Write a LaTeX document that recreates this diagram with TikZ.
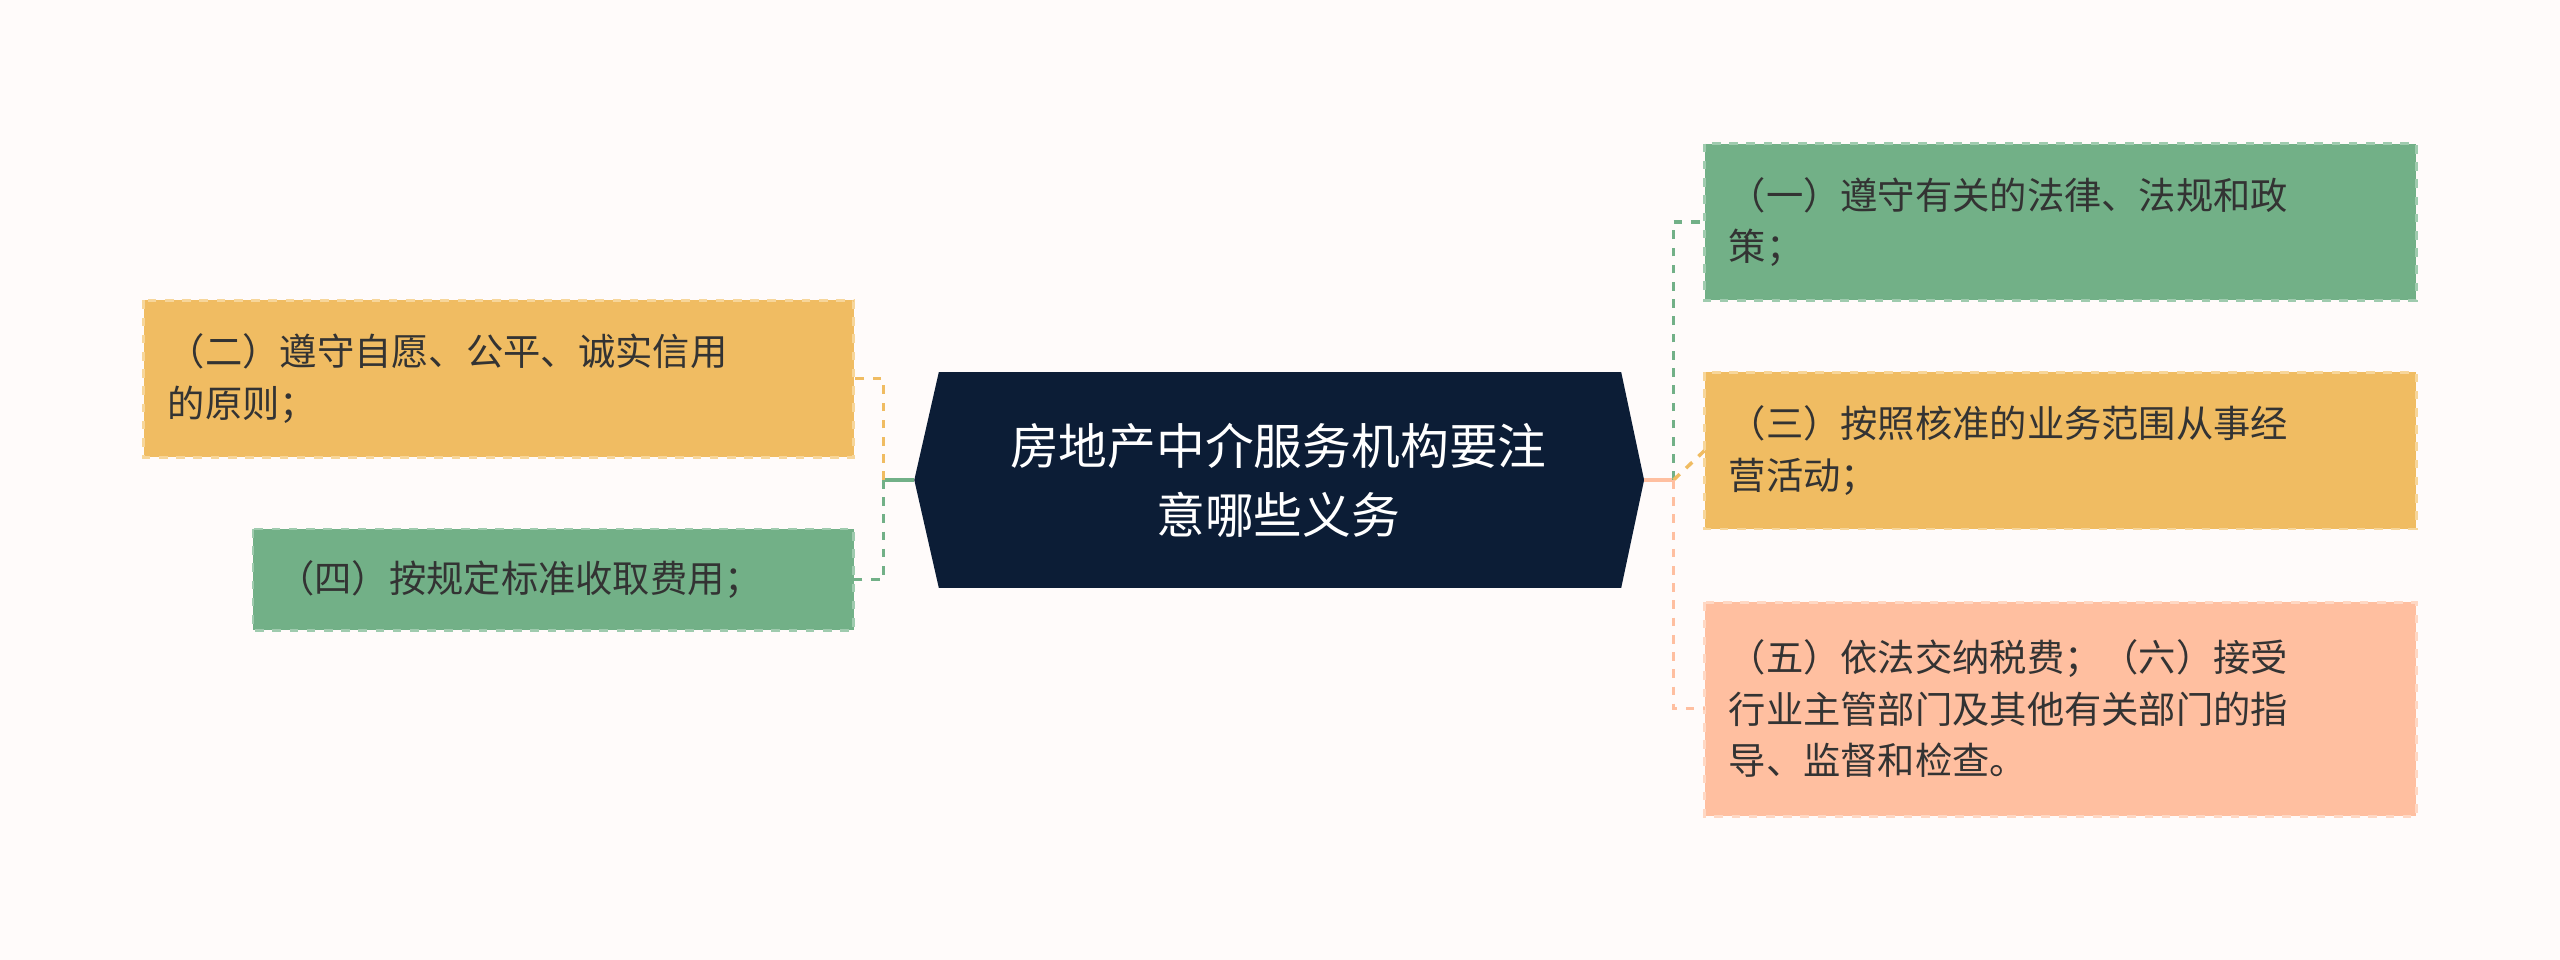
\documentclass[tikz,border=0pt]{standalone}
\usepackage{fontspec}
\setmainfont{Noto Sans CJK SC}
\definecolor{bgc}{HTML}{FFFBFA}
\definecolor{navy}{HTML}{0C1D36}
\definecolor{grn}{HTML}{72B087}
\definecolor{grnl}{HTML}{9FCBAE}
\definecolor{org}{HTML}{F0BC62}
\definecolor{orgl}{HTML}{F7D69A}
\definecolor{sal}{HTML}{FFBFA0}
\definecolor{sall}{HTML}{FFD8C4}
\definecolor{txt}{HTML}{333333}
\tikzset{
  leaf/.style={rectangle, dashed, line width=1pt, inner xsep=0.28cm, inner ysep=0pt,
    align=left, text=txt, font=\fontsize{13}{18}\selectfont, anchor=north west},
  link/.style={dashed, line width=1.2pt}
}
\begin{document}
\begin{tikzpicture}[x=0.02cm,y=-0.02cm]
\fill[bgc] (0,0) rectangle (1568,588);
\useasboundingbox (0,0) rectangle (1568,588);
% centre
\fill[navy] (575,228) -- (993,228) -- (1007,294) -- (993,360) -- (575,360) -- (560,294) -- cycle;
\node[text=white, align=center, font=\fontsize{17}{24}\selectfont] (root) at (783,294) {房地产中介服务机构要注\\意哪些义务};
\coordinate (rr) at (1007,294);
\coordinate (rl) at (560,294);
\coordinate (rj) at (1025,294);
\coordinate (lj) at (541,294);
% right
\filldraw[grn, draw=grnl, dashed, line width=1pt] (1044,88) rectangle (1480,184);
\node[leaf, text width=8.2cm, minimum height=1.92cm] (a1) at (1044,88) {};
\node[leaf, text width=8.2cm, anchor=west] (t1) at (1044,136) {（一）遵守有关的法律、法规和政\\策；};
\filldraw[org, draw=orgl, dashed, line width=1pt] (1044,228) rectangle (1480,324);
\node[leaf, text width=8.2cm, anchor=west] (t3) at (1044,276) {（三）按照核准的业务范围从事经\\营活动；};
\filldraw[sal, draw=sall, dashed, line width=1pt] (1044,369) rectangle (1480,500);
\node[leaf, text width=8.2cm, anchor=west] (t5) at (1044,434) {（五）依法交纳税费；（六）接受\\行业主管部门及其他有关部门的指\\导、监督和检查。};
% left
\filldraw[org, draw=orgl, dashed, line width=1pt] (88,184) rectangle (523,280);
\node[leaf, text width=8.2cm, anchor=west] (t2) at (88,232) {（二）遵守自愿、公平、诚实信用\\的原则；};
\filldraw[grn, draw=grnl, dashed, line width=1pt] (155,324) rectangle (523,386);
\node[leaf, text width=6.9cm, anchor=west] (t4) at (155,355) {（四）按规定标准收取费用；};
\coordinate (e1) at (1044,136);
\coordinate (e3) at (1044,276);
\coordinate (e5) at (1044,434);
\coordinate (e2) at (523,232);
\coordinate (e4) at (523,355);
% connectors
\draw[sal, line width=1.2pt] (rr) -- (rj);
\draw[link, grn] (rj) |- (e1);
\draw[link, org] (rj) -- (e3);
\draw[link, sal] (rj) |- (e5);
\draw[grn, line width=1.2pt] (rl) -- (lj);
\draw[link, org] (lj) |- (e2);
\draw[link, grn] (lj) |- (e4);
\end{tikzpicture}
\end{document}
